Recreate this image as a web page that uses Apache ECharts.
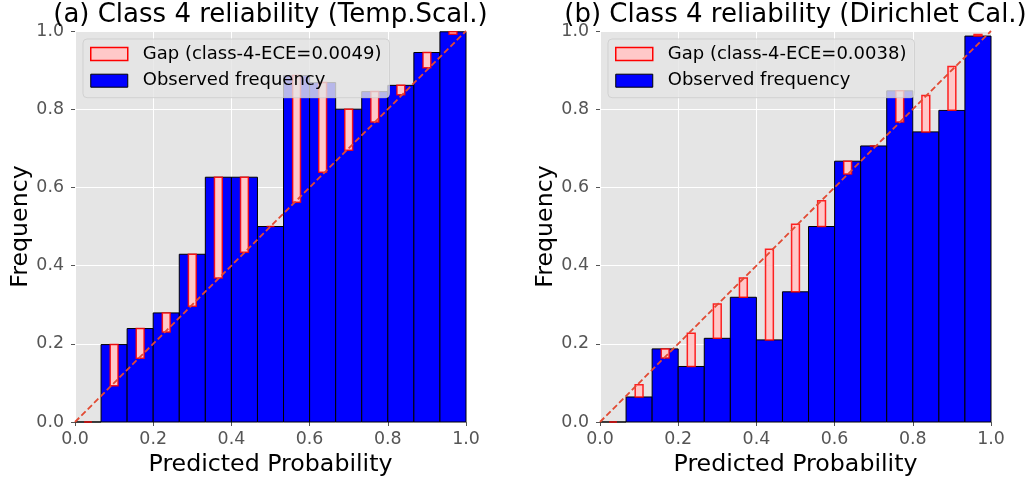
<!DOCTYPE html>
<html>
<head>
<meta charset="utf-8">
<script src="https://cdn.jsdelivr.net/npm/echarts@6/dist/echarts.min.js"></script>
<style>
  html, body { margin: 0; padding: 0; background: #fff; }
  #chart { width: 1036px; height: 482px; }
</style>
</head>
<body>
<div id="chart"></div>
<script>
// Reliability diagrams for class 4: 15 equal-width confidence bins.
const NUM_BINS = 15;
const xTicks = [0, 0.2, 0.4, 0.6, 0.8, 1.0];
const yTicks = [0, 0.2, 0.4, 0.6, 0.8, 1.0];

// (a) temperature scaling
const tempTitle = '(a) Class 4 reliability (Temp.Scal.)';
const tempGapName = 'Gap (class-4-ECE=0.0049)';
const tempObserved   = [0, 0.198, 0.239, 0.279, 0.429, 0.626, 0.626, 0.500, 0.886, 0.868, 0.800, 0.845, 0.861, 0.945, 0.998];
const tempConfidence = [0, 0.093, 0.163, 0.230, 0.296, 0.368, 0.434, 0.500, 0.562, 0.639, 0.695, 0.767, 0.837, 0.906, 0.992];

// (b) Dirichlet calibration
const dirTitle = '(b) Class 4 reliability (Dirichlet Cal.)';
const dirGapName = 'Gap (class-4-ECE=0.0038)';
const dirObserved   = [0, 0.064, 0.187, 0.142, 0.214, 0.319, 0.210, 0.333, 0.500, 0.667, 0.706, 0.847, 0.742, 0.797, 0.987];
const dirConfidence = [0, 0.095, 0.164, 0.227, 0.302, 0.368, 0.442, 0.506, 0.566, 0.634, 0.706, 0.767, 0.835, 0.909, 0.991];

const observedName = 'Observed frequency';
const diagonal = [[0, 0], [1, 1]];

const FONT = 'DejaVu Sans';
const BLUE = '#0000FF';
const PINK = '#FFC8C8';
const RED = '#FF0000';
const BG = '#E5E5E5';

function binData(observed, confidence) {
  return observed.map((v, i) => [(i + 0.5) / NUM_BINS, v, confidence[i]]);
}

function renderObserved(params, api) {
  const c = api.value(0), v = api.value(1), h = 0.5 / NUM_BINS;
  const p0 = api.coord([c - h, v]);
  const p1 = api.coord([c + h, 0]);
  return {
    type: 'rect',
    shape: { x: p0[0], y: p0[1], width: p1[0] - p0[0], height: p1[1] - p0[1] },
    style: { fill: BLUE, stroke: '#000', lineWidth: 1 }
  };
}

function renderGap(params, api) {
  const c = api.value(0), v = api.value(1), conf = api.value(2);
  const h = 0.3 * 0.5 / NUM_BINS;
  const p0 = api.coord([c - h, Math.max(v, conf)]);
  const p1 = api.coord([c + h, Math.min(v, conf)]);
  return {
    type: 'rect',
    shape: { x: p0[0], y: p0[1], width: p1[0] - p0[0], height: p1[1] - p0[1] },
    style: { fill: PINK, stroke: RED, lineWidth: 1.5, strokeOpacity: 0.85 }
  };
}

const plotW = 391, plotH = 391, plotTop = 31;
const lefts = [75, 600];

function xAxis(idx) {
  return {
    type: 'value', gridIndex: idx, min: 0, max: 1, interval: 0.2,
    name: 'Predicted Probability', nameLocation: 'middle', nameGap: 29,
    nameTextStyle: { fontFamily: FONT, fontSize: 23.7, color: '#000' },
    axisLine: { show: false },
    axisTick: { show: true, length: 4, lineStyle: { color: '#555' } },
    axisLabel: { fontFamily: FONT, fontSize: 17.4, color: '#555', margin: 9,
                 formatter: v => v.toFixed(1), customValues: xTicks },
    splitLine: { show: true, lineStyle: { color: '#fff', width: 1 } }
  };
}
function yAxis(idx) {
  return {
    type: 'value', gridIndex: idx, min: 0, max: 1, interval: 0.2,
    name: 'Frequency', nameLocation: 'middle', nameGap: 40, nameRotate: 90,
    nameTextStyle: { fontFamily: FONT, fontSize: 23.7, color: '#000' },
    axisLine: { show: false },
    axisTick: { show: true, length: 4, lineStyle: { color: '#555' } },
    axisLabel: { fontFamily: FONT, fontSize: 17.4, color: '#555', margin: 11,
                 formatter: v => v.toFixed(1), customValues: yTicks },
    splitLine: { show: true, lineStyle: { color: '#fff', width: 1 } }
  };
}

function legend(idx, gapName) {
  return {
    left: lefts[idx] + 8, top: 39, orient: 'vertical', z: 20,
    backgroundColor: 'rgba(229,229,229,0.8)',
    borderColor: 'rgba(204,204,204,0.8)', borderWidth: 1, borderRadius: 4,
    padding: [6, 8, 8, 7],
    itemWidth: 37, itemHeight: 13, itemGap: 8.7,
    selectedMode: false,
    textStyle: { fontFamily: FONT, fontSize: 18, color: '#000', padding: [0, 0, 0, 10] },
    data: [
      { name: gapName, icon: 'rect', itemStyle: { color: PINK, borderColor: RED, borderWidth: 1.5 } },
      { name: observedName, icon: 'rect', itemStyle: { color: BLUE, borderColor: '#000', borderWidth: 1 } }
    ]
  };
}

function panelSeries(idx, gapName, observed, confidence) {
  const data = binData(observed, confidence);
  return [
    { name: observedName, type: 'custom', xAxisIndex: idx, yAxisIndex: idx,
      renderItem: renderObserved, data: data, z: 2, silent: true,
      itemStyle: { color: BLUE, borderColor: '#000' } },
    { name: gapName, type: 'custom', xAxisIndex: idx, yAxisIndex: idx,
      renderItem: renderGap, data: data, z: 3, silent: true,
      itemStyle: { color: PINK, borderColor: RED } },
    { type: 'line', xAxisIndex: idx, yAxisIndex: idx, data: diagonal, z: 4,
      symbol: 'none', silent: true,
      lineStyle: { color: '#E24A33', width: 1.8, type: [6, 3] } }
  ];
}

const chart = echarts.init(document.getElementById('chart'), null, { renderer: 'canvas' });
chart.setOption({
  animation: false,
  backgroundColor: '#fff',
  title: [
    { text: tempTitle, left: lefts[0] + plotW / 2, textAlign: 'center', top: 2, padding: 0,
      textStyle: { fontFamily: FONT, fontSize: 26, fontWeight: 'normal', color: '#000' } },
    { text: dirTitle, left: lefts[1] + plotW / 2, textAlign: 'center', top: 2, padding: 0,
      textStyle: { fontFamily: FONT, fontSize: 26, fontWeight: 'normal', color: '#000' } }
  ],
  grid: lefts.map(l => ({ left: l, top: plotTop, width: plotW, height: plotH,
    show: true, backgroundColor: BG, borderWidth: 0 })),
  xAxis: [xAxis(0), xAxis(1)],
  yAxis: [yAxis(0), yAxis(1)],
  legend: [legend(0, tempGapName), legend(1, dirGapName)],
  series: [
    ...panelSeries(0, tempGapName, tempObserved, tempConfidence),
    ...panelSeries(1, dirGapName, dirObserved, dirConfidence)
  ]
});
</script>
</body>
</html>
